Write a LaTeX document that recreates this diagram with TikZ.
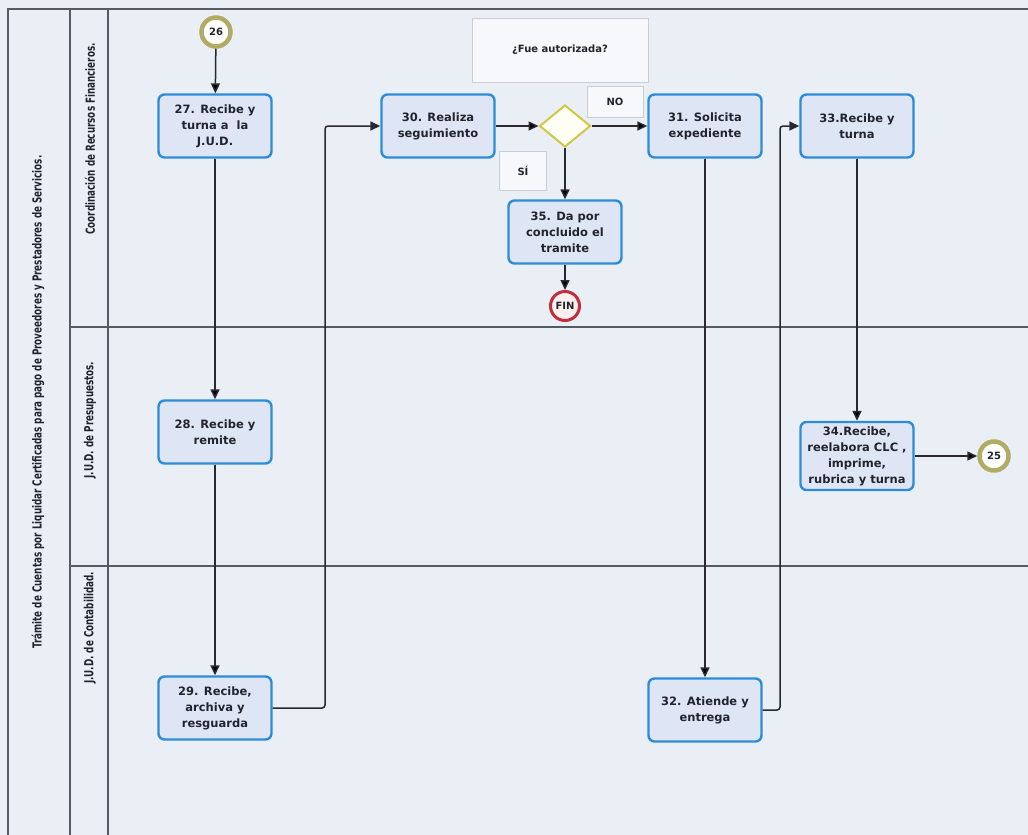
\documentclass[tikz,border=0pt]{standalone}
\usepackage{fontspec}
\setmainfont{DejaVu Sans}
\newfontfamily\lanefont[FakeStretch=0.78]{DejaVu Sans Condensed}
\usetikzlibrary{shapes,arrows.meta}

\definecolor{paper}{RGB}{234,239,246}
\definecolor{taskfill}{RGB}{222,230,246}
\definecolor{taskline}{RGB}{45,140,215}
\definecolor{flowline}{RGB}{40,40,45}
\definecolor{linkring}{RGB}{176,172,100}
\definecolor{finring}{RGB}{195,45,60}
\definecolor{gateline}{RGB}{205,200,70}
\definecolor{poolline}{RGB}{85,90,100}
\definecolor{noteline}{RGB}{200,205,215}
\definecolor{inktext}{RGB}{35,35,45}

\tikzset{
  task/.style={draw=taskline,fill=taskfill,line width=2.4pt,rounded corners=6pt,
    minimum width=113pt,minimum height=63pt,align=center,inner sep=2pt,
    text=inktext,font=\fontsize{11.5}{16}\selectfont\bfseries},
  linkev/.style={circle,draw=linkring,line width=4.5pt,fill=white,minimum size=29pt,
    inner sep=0pt,text=inktext,font=\fontsize{10}{12}\selectfont\bfseries},
  endev/.style={circle,draw=finring,line width=3pt,fill=red!6,minimum size=29pt,
    inner sep=0pt,text=inktext,font=\fontsize{10}{12}\selectfont\bfseries},
  gate/.style={diamond,draw=gateline,line width=2pt,fill=yellow!4,
    minimum width=51pt,minimum height=42pt,inner sep=0pt},
  note/.style={draw=noteline,fill=white!55!paper,line width=1pt,
    text=inktext,font=\fontsize{10}{12}\selectfont\bfseries},
  flow/.style={draw=flowline,line width=1.5pt,rounded corners=3pt,
    -{Triangle[length=10pt,width=9pt]}},
  lanetext/.style={rotate=90,text=inktext,font=\lanefont\fontsize{12.5}{15}\selectfont\bfseries}
}

\begin{document}
\begin{tikzpicture}[x=1pt,y=-1pt]
  \useasboundingbox (0,0) rectangle (1028,835);
  \fill[paper] (0,0) rectangle (1028,835);

  % pool and lanes
  \draw[poolline,line width=1.3pt] (8,835) -- (8,9) -- (1028,9);
  \draw[poolline,line width=1.3pt] (70,9) -- (70,835) (108,9) -- (108,835);
  \draw[poolline,line width=1.3pt] (70,327) -- (1028,327) (70,566) -- (1028,566);
  \node[lanetext] (pool) at (38,402) {Trámite de Cuentas por Liquidar Certificadas para pago de Proveedores y Prestadores de Servicios.};
  \node[lanetext] (lane1) at (90,139) {Coordinación de Recursos Financieros.};
  \node[lanetext] (lane2) at (90,420) {J.U.D. de Presupuestos.};
  \node[lanetext] (lane3) at (90,628) {J.U.D. de Contabilidad.};

  % notes
  \node[note,minimum width=176pt,minimum height=64pt] (ask) at (560,50) {¿Fue autorizada?};
  \node[note,minimum width=56pt,minimum height=31pt] (no) at (615,102) {NO};
  \node[note,minimum width=47pt,minimum height=39pt] (si) at (523,171) {SÍ};

  % activities
  \node[linkev] (c26) at (216,32) {26};
  \node[task] (t27) at (215,126) {27. Recibe y\\turna a \ la\\J.U.D.};
  \node[task] (t28) at (215,432) {28. Recibe y\\remite};
  \node[task] (t29) at (215,708) {29. Recibe,\\archiva y\\resguarda};
  \node[task] (t30) at (438,126) {30. Realiza\\seguimiento};
  \node[gate] (gw) at (565,126) {};
  \node[task] (t35) at (565,232) {35. Da por\\concluido el\\tramite};
  \node[endev] (fin) at (565,306) {FIN};
  \node[task] (t31) at (705,126) {31. Solicita\\expediente};
  \node[task] (t32) at (705,710) {32. Atiende y\\entrega};
  \node[task] (t33) at (857,126) {33.Recibe y\\turna};
  \node[task,minimum height=68pt] (t34) at (857,456) {34.Recibe,\\reelabora CLC ,\\imprime,\\rubrica y turna};
  \node[linkev] (c25) at (994,456) {25};

  \coordinate (j1) at (325,0);
  \coordinate (j2) at (780,0);

  \path[flow] (c26) edge (t27) (t27) edge (t28) (t28) edge (t29);
  \draw[flow] (t29.east) -- (t29.east -| j1) -- (j1 |- t30.west) -- (t30.west);
  \path[flow] (t30) edge (gw) (gw) edge (t31) (gw) edge (t35) (t35) edge (fin);
  \path[flow] (t31) edge (t32);
  \draw[flow] (t32.east) -- (t32.east -| j2) -- (j2 |- t33.west) -- (t33.west);
  \path[flow] (t33) edge (t34) (t34) edge (c25);
\end{tikzpicture}
\end{document}
